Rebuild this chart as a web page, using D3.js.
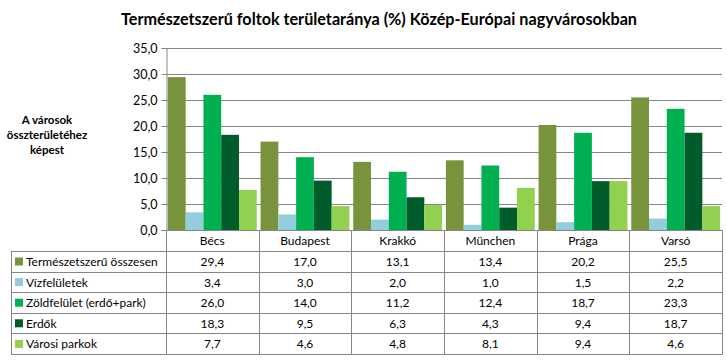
<!DOCTYPE html>
<html><head><meta charset="utf-8">
<script src="https://cdn.jsdelivr.net/npm/d3@7"></script>
<style>body{margin:0;background:#fff}svg{display:block}text{font-family:Lato,"Open Sans",sans-serif}</style>
</head><body><svg id="c" width="727" height="360"></svg>
<script>
const cities = ["Bécs","Budapest","Krakkó","München","Prága","Varsó"];
const seriesNames = ["Természetszerű összesen","Vízfelületek","Zöldfelület (erdő+park)","Erdők","Városi parkok"];
const termeszetszeru = [29.4,17.0,13.1,13.4,20.2,25.5];
const vizfeluletek = [3.4,3.0,2.0,1.0,1.5,2.2];
const zoldfelulet = [26.0,14.0,11.2,12.4,18.7,23.3];
const erdok = [18.3,9.5,6.3,4.3,9.4,18.7];
const varosiParkok = [7.7,4.6,4.8,8.1,9.4,4.6];
const yTicks = [0,5,10,15,20,25,30,35];
const colors = ["#77933C","#93CDDD","#00B050","#005C2A","#92D050"];
const seriesValues = [termeszetszeru,vizfeluletek,zoldfelulet,erdok,varosiParkok];

const svg = d3.select("#c");
const L=166, R=722, T=48, B=230;
const fmt = v => v.toFixed(1).replace(".", ",");
const y = d3.scaleLinear().domain([0,35]).range([B,T]);
const x0 = d3.scaleBand().domain(cities).range([L,R]).paddingInner(0).paddingOuter(0);
const x1 = d3.scaleBand().domain(d3.range(5)).range([0,x0.bandwidth()]).paddingOuter(0.107).paddingInner(0);

// title
svg.append("text").attr("x",379).attr("y",25).attr("text-anchor","middle")
  .style("font-size","16.2px").style("font-weight","bold").style("fill","#000")
  .text("Természetszerű foltok területaránya (%) Közép-Európai nagyvárosokban");

// y-axis title
const yt = svg.append("text").attr("text-anchor","middle").style("font-size","11.5px").style("font-weight","bold");
["A városok","összterületéhez","képest"].forEach((s,i)=>yt.append("tspan").attr("x",47).attr("y",124+i*15).text(s));

// gridlines
svg.append("g").selectAll("line").data(yTicks.slice(1)).join("line")
  .attr("x1",L).attr("x2",R).attr("y1",d=>Math.round(y(d))+0.5).attr("y2",d=>Math.round(y(d))+0.5)
  .attr("stroke","#868686").attr("stroke-width",1);

// bars
const g = svg.append("g");
cities.forEach((c,ci)=>{
  seriesValues.forEach((vals,si)=>{
    g.append("rect").attr("x",x0(c)+x1(si)).attr("width",x1.bandwidth())
      .attr("y",y(vals[ci])).attr("height",B-y(vals[ci])).attr("fill",colors[si]);
  });
});

// y axis
const ya = d3.axisLeft(y).tickValues(yTicks).tickFormat(fmt).tickSize(5).tickPadding(4);
const yg = svg.append("g").attr("transform",`translate(${L+0.5},0)`).call(ya);
yg.select(".domain").attr("stroke","#868686");
yg.selectAll(".tick line").attr("stroke","#868686");
yg.selectAll(".tick text").style("font-size","12.5px").style("fill","#000").style("font-family","Lato,'Open Sans',sans-serif");

// data table
const rowTop = 230, hdrH = 21, rowH = 20.6, TL = 11;
const tg = svg.append("g");
const gray = "#868686";
cities.forEach(c=>{
  tg.append("text").attr("x",x0(c)+x0.bandwidth()/2).attr("y",rowTop+15).attr("text-anchor","middle")
    .style("font-size","12px").text(c);
});
const hLines = d3.range(6).map(i=>rowTop+hdrH+i*rowH);
tg.append("line").attr("x1",L).attr("x2",R).attr("y1",rowTop+0.5).attr("y2",rowTop+0.5).attr("stroke",gray);
hLines.forEach(yy=>tg.append("line").attr("x1",TL).attr("x2",R).attr("y1",Math.round(yy)+0.5).attr("y2",Math.round(yy)+0.5).attr("stroke",gray));
const vx = [L].concat(cities.map(c=>x0(c)+x0.bandwidth()));
vx.forEach(xx=>tg.append("line").attr("x1",Math.round(xx)+0.5).attr("x2",Math.round(xx)+0.5).attr("y1",rowTop).attr("y2",Math.round(hLines[5])+0.5).attr("stroke",gray));
tg.append("line").attr("x1",TL+0.5).attr("x2",TL+0.5).attr("y1",hLines[0]).attr("y2",Math.round(hLines[5])+0.5).attr("stroke",gray);
seriesNames.forEach((n,si)=>{
  const top = hLines[si];
  tg.append("rect").attr("x",15).attr("y",top+6.5).attr("width",8).attr("height",8).attr("fill",colors[si]);
  tg.append("text").attr("x",26).attr("y",top+15).style("font-size","12px").text(n);
  cities.forEach((c,ci)=>{
    tg.append("text").attr("x",x0(c)+x0.bandwidth()/2).attr("y",top+15).attr("text-anchor","middle")
      .style("font-size","12px").text(fmt(seriesValues[si][ci]));
  });
});
</script></body></html>
